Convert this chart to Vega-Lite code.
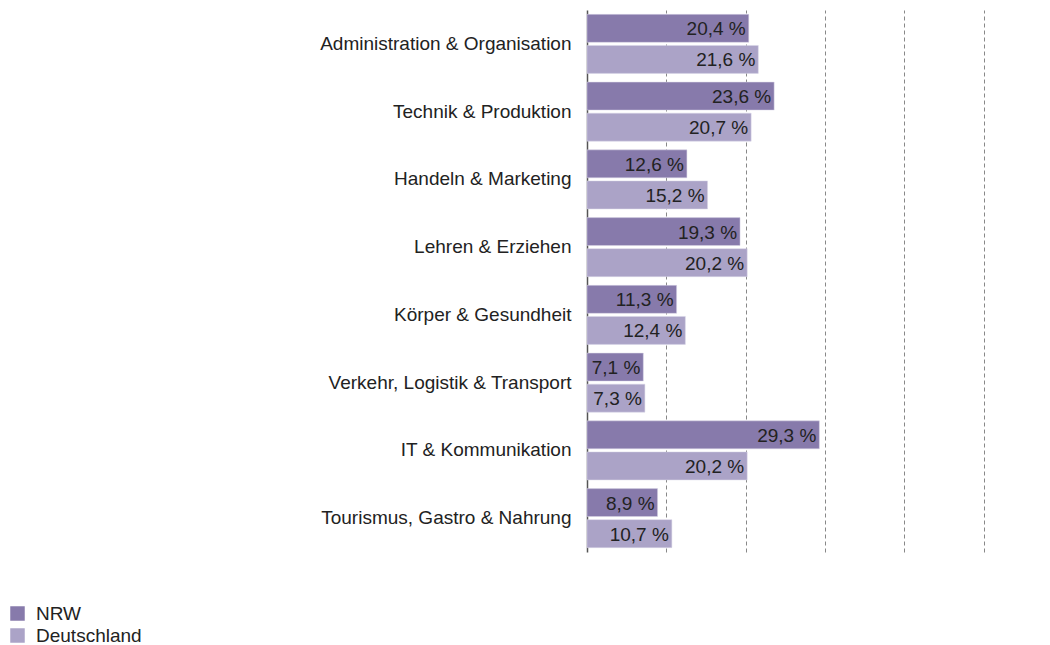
{
  "$schema": "https://vega.github.io/schema/vega-lite/v6.json",
  "autosize": {"type": "none"},
  "padding": {"left": 587, "top": 10, "right": 20, "bottom": 93},
  "width": 396.5,
  "height": 542,
  "background": "white",
  "data": {
    "values": [
      {"bereich": "Administration & Organisation", "region": "NRW", "wert": 20.4, "label": "20,4 %"},
      {"bereich": "Administration & Organisation", "region": "Deutschland", "wert": 21.6, "label": "21,6 %"},
      {"bereich": "Technik & Produktion", "region": "NRW", "wert": 23.6, "label": "23,6 %"},
      {"bereich": "Technik & Produktion", "region": "Deutschland", "wert": 20.7, "label": "20,7 %"},
      {"bereich": "Handeln & Marketing", "region": "NRW", "wert": 12.6, "label": "12,6 %"},
      {"bereich": "Handeln & Marketing", "region": "Deutschland", "wert": 15.2, "label": "15,2 %"},
      {"bereich": "Lehren & Erziehen", "region": "NRW", "wert": 19.3, "label": "19,3 %"},
      {"bereich": "Lehren & Erziehen", "region": "Deutschland", "wert": 20.2, "label": "20,2 %"},
      {"bereich": "Körper & Gesundheit", "region": "NRW", "wert": 11.3, "label": "11,3 %"},
      {"bereich": "Körper & Gesundheit", "region": "Deutschland", "wert": 12.4, "label": "12,4 %"},
      {"bereich": "Verkehr, Logistik & Transport", "region": "NRW", "wert": 7.1, "label": "7,1 %"},
      {"bereich": "Verkehr, Logistik & Transport", "region": "Deutschland", "wert": 7.3, "label": "7,3 %"},
      {"bereich": "IT & Kommunikation", "region": "NRW", "wert": 29.3, "label": "29,3 %"},
      {"bereich": "IT & Kommunikation", "region": "Deutschland", "wert": 20.2, "label": "20,2 %"},
      {"bereich": "Tourismus, Gastro & Nahrung", "region": "NRW", "wert": 8.9, "label": "8,9 %"},
      {"bereich": "Tourismus, Gastro & Nahrung", "region": "Deutschland", "wert": 10.7, "label": "10,7 %"}
    ]
  },
  "encoding": {
    "y": {
      "field": "bereich", "type": "nominal", "sort": null, "title": null,
      "scale": {"paddingInner": 0.129, "paddingOuter": 0.0645},
      "axis": {
        "domain": true, "domainColor": "#555555", "domainWidth": 1.5,
        "ticks": false, "labelPadding": 16, "labelFont": "Liberation Sans",
        "labelFontSize": 19, "labelColor": "#222222", "grid": false, "labelLimit": 400
      }
    },
    "yOffset": {
      "field": "region", "type": "nominal", "sort": ["NRW", "Deutschland"],
      "scale": {"paddingInner": 0.1, "paddingOuter": 0}
    },
    "x": {
      "field": "wert", "type": "quantitative", "title": null,
      "scale": {"domain": [0, 50], "nice": false},
      "axis": {
        "values": [10, 20, 30, 40, 50], "labels": false, "ticks": false, "domain": false,
        "grid": true, "gridDash": [4, 3], "gridColor": "#888888", "gridWidth": 1
      }
    }
  },
  "layer": [
    {
      "mark": {"type": "bar", "stroke": "#d8d4e6", "strokeWidth": 0.5},
      "encoding": {
        "color": {
          "field": "region", "type": "nominal", "sort": ["NRW", "Deutschland"], "title": null,
          "scale": {"domain": ["NRW", "Deutschland"], "range": ["#877aab", "#aba3c7"]},
          "legend": {
            "orient": "none", "legendX": -579, "legendY": 594,
            "symbolType": "square", "symbolSize": 210, "symbolStrokeWidth": 0,
            "labelFont": "Liberation Sans", "labelFontSize": 19, "labelColor": "#222222",
            "rowPadding": 2, "labelOffset": 9
          }
        }
      }
    },
    {
      "mark": {"type": "text", "align": "right", "baseline": "middle", "dx": -3, "dy": 1,
        "font": "Liberation Sans", "fontSize": 19, "color": "#222222"},
      "encoding": {"text": {"field": "label"}}
    }
  ],
  "config": {"view": {"stroke": null}}
}
